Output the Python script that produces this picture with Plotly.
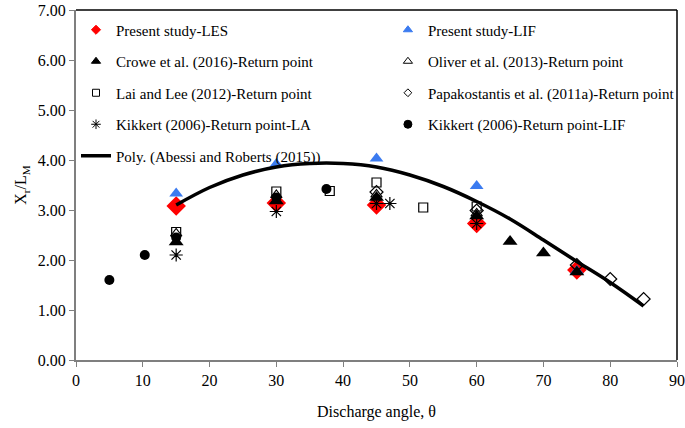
import plotly.graph_objects as go

# ---- data ----
les_x = [15, 30, 45, 60, 75]
les_y = [3.08, 3.14, 3.10, 2.73, 1.80]

lif_x = [15, 30, 45, 60, 75]
lif_y = [3.33, 3.92, 4.03, 3.48, 1.78]

crowe_x = [15, 30, 45, 60, 65, 70, 75]
crowe_y = [2.36, 3.18, 3.25, 2.88, 2.37, 2.14, 1.76]

oliver_x = [15, 30, 45, 60]
oliver_y = [2.53, 3.30, 3.31, 2.93]

lai_x = [15, 30, 38, 45, 52, 60]
lai_y = [2.56, 3.37, 3.38, 3.55, 3.05, 3.07]

papa_x = [45, 60, 75, 80, 85]
papa_y = [3.36, 2.99, 1.90, 1.62, 1.22]

kla_x = [15, 30, 45, 47, 60]
kla_y = [2.10, 2.97, 3.13, 3.13, 2.73]

klif_x = [5, 10.3, 15, 30, 37.5]
klif_y = [1.60, 2.10, 2.45, 3.25, 3.42]

poly_x = [15, 20, 25, 30, 35, 40, 45, 50, 55, 60, 65, 70, 75, 80, 85]
poly_y = [3.10, 3.45, 3.70, 3.86, 3.93, 3.93, 3.86, 3.70, 3.47, 3.17, 2.82, 2.40, 1.97, 1.55, 1.08]

x_ticks = [0, 10, 20, 30, 40, 50, 60, 70, 80, 90]
y_ticks = [0, 1, 2, 3, 4, 5, 6, 7]

FONT = "Liberation Serif"

fig = go.Figure()

def add(x, y, name, symbol, size, lsize, color, legend, lw=1.2):
    # data trace
    fig.add_trace(go.Scatter(
        x=x, y=y, mode="markers", name=name, showlegend=False,
        marker=dict(symbol=symbol, size=size, color=color, line=dict(width=lw, color=color)),
    ))
    # legend entry with small marker (as in the reference legend)
    fig.add_trace(go.Scatter(
        x=[None], y=[None], mode="markers", name=name, legend=legend, legendgroup=name,
        marker=dict(symbol=symbol, size=lsize, color=color, line=dict(width=1, color=color)),
    ))

add(les_x, les_y, "Present study-LES", "diamond", 15, 7, "#FF0000", "legend", lw=0)
add(lif_x, lif_y, "Present study-LIF", "triangle-up", 12, 8, "#3B7BF0", "legend2", lw=0)
add(crowe_x, crowe_y, "Crowe et al. (2016)-Return point", "triangle-up", 13, 8, "#000000", "legend", lw=0)
add(oliver_x, oliver_y, "Oliver et al. (2013)-Return point", "triangle-up-open", 10, 8, "#000000", "legend2")
add(lai_x, lai_y, "Lai and Lee (2012)-Return point", "square-open", 9, 7, "#000000", "legend")
add(papa_x, papa_y, "Papakostantis et al. (2011a)-Return point", "diamond-open", 10, 6, "#000000", "legend2")
add(kla_x, kla_y, "Kikkert (2006)-Return point-LA", "asterisk-open", 11, 8, "#000000", "legend")
add(klif_x, klif_y, "Kikkert (2006)-Return point-LIF", "circle", 10, 8, "#000000", "legend2", lw=0)

fig.add_trace(go.Scatter(
    x=poly_x, y=poly_y, mode="lines", name="Poly. (Abessi and Roberts (2015))",
    legend="legend", legendgroup="poly",
    line=dict(color="#000000", width=3.5, shape="spline", smoothing=1.0),
))

axis_common = dict(
    showline=True, linecolor="#7F7F7F", linewidth=2, mirror=False,
    ticks="outside", tickcolor="#7F7F7F", ticklen=5, tickwidth=1,
    showgrid=False, zeroline=False, automargin=False,
    tickfont=dict(family=FONT, size=16, color="#000000"),
)

fig.update_layout(
    width=685, height=428,
    margin=dict(l=76, r=8, t=10, b=68, autoexpand=False),
    paper_bgcolor="white", plot_bgcolor="white",
    font=dict(family=FONT, size=15, color="#000000"),
    xaxis=dict(range=[0, 90], tickvals=x_ticks, **axis_common,
               title=dict(text="Discharge angle, θ", font=dict(family=FONT, size=16), standoff=18)),
    yaxis=dict(range=[0, 7], tickvals=y_ticks, tickformat=".2f", **axis_common,
               title=dict(text="X<sub>r</sub>/L<sub>M</sub>", font=dict(family=FONT, size=16), standoff=7)),
    legend=dict(x=0.0, y=0.99, xanchor="left", yanchor="top", bgcolor="rgba(0,0,0,0)",
                tracegroupgap=9, font=dict(family=FONT, size=15)),
    legend2=dict(x=0.519, y=0.99, xanchor="left", yanchor="top", bgcolor="rgba(0,0,0,0)",
                 tracegroupgap=9, font=dict(family=FONT, size=15)),
    shapes=[
        dict(type="line", xref="paper", yref="paper", x0=0, x1=1, y0=1, y1=1,
             line=dict(color="#000000", width=1.5)),
        dict(type="line", xref="paper", yref="paper", x0=1, x1=1, y0=0, y1=1,
             line=dict(color="#000000", width=1.5)),
    ],
)

fig.write_html("out.html",
               config={"displayModeBar": False},
               post_script="document.body.style.margin='0px';document.body.style.padding='0px';")
